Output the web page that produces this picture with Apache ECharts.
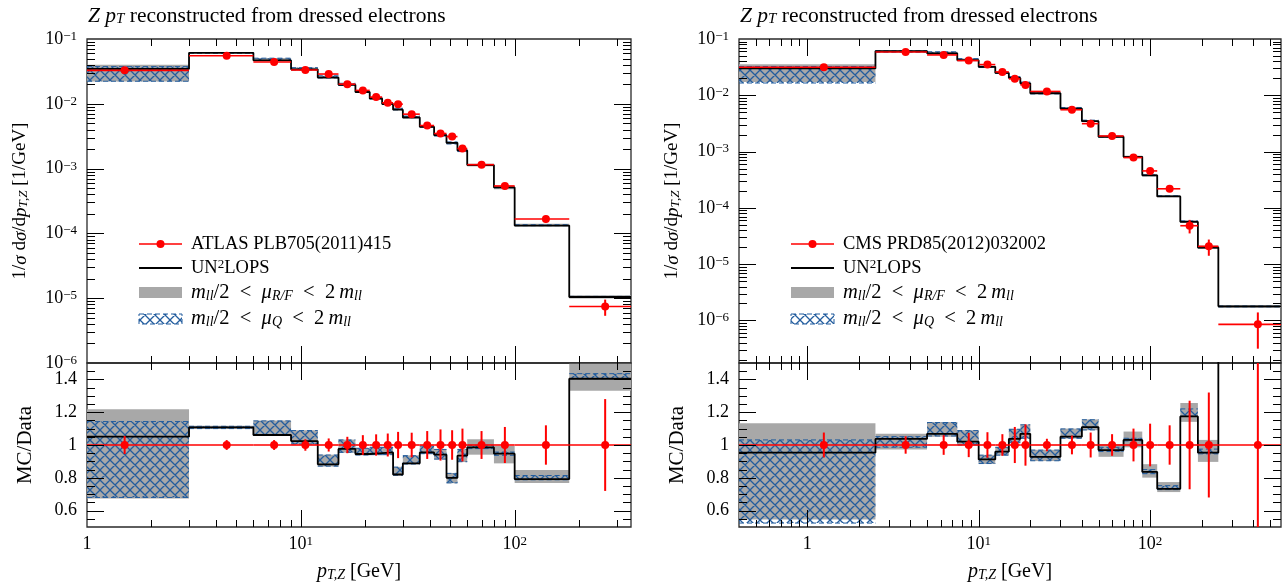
<!DOCTYPE html>
<html>
<head>
<meta charset="utf-8">
<title>Z pT reconstructed from dressed electrons</title>
<script src="https://cdn.jsdelivr.net/npm/echarts@6.0.0/dist/echarts.min.js"></script>
<style>
  html, body { margin: 0; padding: 0; background: #fff; }
  #wrap { position: relative; width: 1288px; height: 585px; }
  #chart, #ticks { position: absolute; left: 0; top: 0; width: 1288px; height: 585px; }
  #ticks { pointer-events: none; }
</style>
</head>
<body>
<div id="wrap">
  <div id="chart"></div>
  <div id="ticks"></div>
</div>
<script>
// ---- left panel: ATLAS PLB705(2011)415 ----
const atlasEdges = [0, 3, 6, 9, 12, 15, 18, 21, 24, 27, 30, 36, 42, 48, 54, 60, 80, 100, 180, 350];
const atlasData = [0.0328, 0.0552, 0.0441, 0.0332, 0.0288, 0.0201, 0.0161, 0.0127, 0.01036, 0.00988,
                   0.00692, 0.00462, 0.00348, 0.00312, 0.00204, 0.00115, 0.00054, 0.000167, 7.43e-6];
const atlasErr = [0.055, 0.03, 0.03, 0.035, 0.04, 0.05, 0.06, 0.065, 0.07, 0.08,
                  0.075, 0.085, 0.095, 0.09, 0.1, 0.085, 0.11, 0.12, 0.28];
// UN2LOPS as MC/Data, plus the two scale-variation bands (also MC/Data)
const atlasMc = [1.051, 1.108, 1.061, 1.024, 0.882, 0.976, 0.945, 0.951, 0.955, 0.820,
                 0.888, 0.955, 0.941, 0.800, 0.935, 0.986, 0.947, 0.792, 1.404];
const atlasRfLo = [0.674, 1.098, 1.055, 1.004, 0.869, 0.953, 0.937, 0.939, 0.939, 0.814,
                   0.882, 0.945, 0.912, 0.767, 0.896, 0.941, 0.888, 0.769, 1.331];
const atlasRfHi = [1.218, 1.118, 1.150, 1.090, 0.941, 1.033, 0.982, 0.988, 0.988, 0.867,
                   0.937, 0.996, 0.975, 0.829, 0.975, 1.035, 0.994, 0.847, 1.496];
const atlasQLo = [0.680, 1.100, 1.058, 1.006, 0.871, 0.955, 0.939, 0.941, 0.941, 0.816,
                  0.884, 0.947, 0.914, 0.769, 0.898, 0.978, 0.937, 0.788, 1.404];
const atlasQHi = [1.143, 1.114, 1.147, 1.088, 0.939, 1.031, 0.980, 0.986, 0.986, 0.865,
                  0.935, 0.994, 0.973, 0.827, 0.973, 0.998, 0.957, 0.814, 1.435];

// ---- right panel: CMS PRD85(2012)032002 ----
const cmsEdges = [0, 2.5, 5, 7.5, 10, 12.5, 15, 17.5, 20, 30, 40, 50, 70, 90, 110, 150, 190, 250, 600];
const cmsData = [0.0315, 0.0589, 0.0521, 0.0413, 0.0351, 0.0260, 0.0196, 0.0153, 0.0117, 0.00553,
                 0.00313, 0.00189, 0.000781, 0.000453, 0.000218, 4.81e-5, 2.07e-5, 8.5e-7];
const cmsErr = [0.076, 0.053, 0.06, 0.074, 0.078, 0.066, 0.11, 0.126, 0.038, 0.057,
                0.076, 0.066, 0.1, 0.13, 0.12, 0.27, 0.32, 0.63];
const cmsMc = [0.953, 1.037, 1.068, 1.020, 0.912, 0.959, 1.037, 1.068, 0.928, 1.051,
               1.109, 0.969, 1.031, 0.836, 0.733, 1.174, 0.953, 2.09];
const cmsRfLo = [0.545, 0.973, 1.050, 0.998, 0.885, 0.936, 1.012, 1.039, 0.902, 1.039,
                 1.090, 0.928, 0.986, 0.801, 0.713, 1.141, 0.897, 1.95];
const cmsRfHi = [1.133, 1.068, 1.140, 1.090, 0.940, 0.988, 1.098, 1.125, 0.971, 1.100,
                 1.156, 1.006, 1.082, 0.883, 0.774, 1.256, 1.031, 2.20];
const cmsQLo = [0.524, 0.986, 1.055, 1.000, 0.887, 0.938, 1.014, 1.041, 0.904, 1.041,
                1.092, 0.960, 1.025, 0.825, 0.728, 1.176, 0.946, 2.05];
const cmsQHi = [1.031, 1.051, 1.137, 1.088, 0.938, 0.986, 1.096, 1.123, 0.969, 1.098,
                1.154, 0.986, 1.041, 0.850, 0.752, 1.220, 0.975, 2.12];

// tick labels
const xLabelValues = [1, 10, 100];
const mainYLabelValues = [1e-6, 1e-5, 1e-4, 1e-3, 1e-2, 1e-1];
const ratioLabelValues = [0.6, 0.8, 1, 1.2, 1.4];

const FONT = '"Liberation Serif", "DejaVu Serif", serif';
const RED = '#ff0000', BLUE = '#235d9e', GREY = '#a8a8a8', INK = '#000';
const RATIO_MIN = 0.5, RATIO_MAX = 1.5;

const panels = [
  { edges: atlasEdges, data: atlasData, err: atlasErr, mc: atlasMc,
    rfLo: atlasRfLo, rfHi: atlasRfHi, qLo: atlasQLo, qHi: atlasQHi,
    xMin: 1, xMax: 350, yMin: 1e-6, yMax: 0.1, left: 87, width: 544,
    label: 'ATLAS PLB705(2011)415' },
  { edges: cmsEdges, data: cmsData, err: cmsErr, mc: cmsMc,
    rfLo: cmsRfLo, rfHi: cmsRfHi, qLo: cmsQLo, qHi: cmsQHi,
    xMin: 0.4, xMax: 580, yMin: 1.75e-7, yMax: 0.1, left: 739, width: 542,
    label: 'CMS PRD85(2012)032002' }
];
const rowsLayout = [[39, 324], [363, 164]];   // main plot, ratio plot (top, height)

function richSet(size) {
  const s = Math.round(size * 0.7), lh = Math.round(size * 0.5);
  return {
    n: { fontFamily: FONT, fontSize: size, color: INK },
    i: { fontFamily: FONT, fontSize: size, fontStyle: 'italic', color: INK },
    sub: { fontFamily: FONT, fontSize: s, fontStyle: 'italic', color: INK, verticalAlign: 'bottom', lineHeight: lh },
    sup: { fontFamily: FONT, fontSize: s, color: INK, verticalAlign: 'top', lineHeight: lh }
  };
}

// cross hatch tile for the mu_Q band
const hatch = (function () {
  const s = 10, c = document.createElement('canvas');
  c.width = s; c.height = s;
  const g = c.getContext('2d');
  g.strokeStyle = BLUE; g.lineWidth = 1.3;
  g.beginPath();
  for (let d = -s; d <= s; d += s) {
    g.moveTo(d, 0); g.lineTo(d + s, s);
    g.moveTo(d + s, 0); g.lineTo(d, s);
  }
  g.stroke();
  return c;
})();

function near(v, list) {
  return list.some(w => Math.abs(Math.log10(v) - Math.log10(w)) < 1e-6);
}
function powLabel(v) {
  const k = Math.round(Math.log10(v));
  if (k === 0) return '{n|1}';
  return '{n|10}{sup|' + (k < 0 ? '\u2212' + (-k) : k) + '}';
}

// tick values: [value, isMajor]
function logTicks(min, max) {
  const out = [];
  for (let k = Math.floor(Math.log10(min)); k <= Math.ceil(Math.log10(max)); k++) {
    for (let m = 1; m <= 9; m++) {
      const v = m * Math.pow(10, k);
      if (v > min * 1.0001 && v < max * 0.9999) out.push([v, m === 1]);
    }
  }
  return out;
}
function ratioTicks() {
  const out = [];
  for (let j = 11; j <= 29; j++) out.push([j * 0.05, j % 4 === 0]);
  return out;
}

function bandSeries(g, rows, hatched) {
  return {
    type: 'custom', xAxisIndex: g, yAxisIndex: g, silent: true, clip: true, z: hatched ? 3 : 2,
    data: rows, encode: { x: [0, 1], y: [2, 3] },
    renderItem: (params, api) => {
      const a = api.coord([api.value(0), api.value(3)]);
      const b = api.coord([api.value(1), api.value(2)]);
      const rect = { type: 'rect', shape: { x: a[0], y: a[1], width: b[0] - a[0], height: b[1] - a[1] },
        style: hatched ? { fill: { image: hatch, repeat: 'repeat' } } : { fill: GREY } };
      if (!hatched) return rect;
      const edge = y => ({ type: 'line', shape: { x1: a[0], y1: y, x2: b[0], y2: y },
        style: { stroke: BLUE, lineWidth: 1, lineDash: [5, 3] } });
      return { type: 'group', children: [rect, edge(a[1]), edge(b[1])] };
    }
  };
}

function pointSeries(g, rows) {
  return {
    type: 'custom', xAxisIndex: g, yAxisIndex: g, silent: true, clip: true, z: 6,
    data: rows, encode: { x: [0, 1, 2], y: [3, 4, 5] },
    renderItem: (params, api) => {
      const y = api.value(3), xm = api.value(2);
      const a = api.coord([api.value(0), y]), b = api.coord([api.value(1), y]);
      const c = api.coord([xm, y]);
      const lo = api.coord([xm, api.value(4)]), hi = api.coord([xm, api.value(5)]);
      return { type: 'group', children: [
        { type: 'line', shape: { x1: a[0], y1: a[1], x2: b[0], y2: b[1] }, style: { stroke: RED, lineWidth: 1.6 } },
        { type: 'line', shape: { x1: c[0], y1: lo[1], x2: c[0], y2: hi[1] }, style: { stroke: RED, lineWidth: 2 } },
        { type: 'circle', shape: { cx: c[0], cy: c[1], r: 4 }, style: { fill: RED } }
      ] };
    }
  };
}

let series = [];
panels.forEach((P, p) => {
  const gm = 2 * p, gr = 2 * p + 1;
  const n = P.data.length;
  const lo = [], hi = [], mid = [];
  for (let i = 0; i < n; i++) {
    lo.push(Math.max(P.edges[i], P.xMin));
    hi.push(Math.min(P.edges[i + 1], P.xMax));
    mid.push((P.edges[i] + P.edges[i + 1]) / 2);
  }
  [[gm, P.data], [gr, null]].forEach(([g, norm]) => {
    const k = i => (norm ? norm[i] : 1);
    series.push(bandSeries(g, lo.map((x, i) => [x, hi[i], P.rfLo[i] * k(i), P.rfHi[i] * k(i)]), false));
    series.push(bandSeries(g, lo.map((x, i) => [x, hi[i], P.qLo[i] * k(i), P.qHi[i] * k(i)]), true));
    const step = lo.map((x, i) => [x, P.mc[i] * k(i)]);
    step.push([hi[n - 1], P.mc[n - 1] * k(n - 1)]);
    series.push({ type: 'line', xAxisIndex: g, yAxisIndex: g, data: step, step: 'end',
      symbol: 'none', showSymbol: false, clip: true, silent: true, z: 4,
      lineStyle: { color: '#000', width: 1.8 } });
    series.push(pointSeries(g, lo.map((x, i) => [x, hi[i], mid[i], k(i),
      k(i) * (1 - P.err[i]), k(i) * (1 + P.err[i])])));
  });
});

// grids and axes; `bare` gives the same scales with nothing drawn (for the tick overlay)
function buildAxes(bare) {
  const grids = [], xAxes = [], yAxes = [];
  const off = { axisLine: { show: false }, axisTick: { show: false }, splitLine: { show: false } };
  panels.forEach((P, p) => {
    rowsLayout.forEach(([top, height], r) => {
      const g = 2 * p + r, isRatio = r === 1;
      grids.push({ left: P.left, top: top, width: P.width, height: height, show: !bare,
        borderColor: '#2a2a2a', borderWidth: 1.3, backgroundColor: 'rgba(0,0,0,0)',
        containLabel: false, outerBoundsMode: 'none' });
      xAxes.push(Object.assign({ type: 'log', logBase: 10, gridIndex: g, min: P.xMin, max: P.xMax }, off,
        bare ? { axisLabel: { show: false } } : {
          axisLabel: { show: isRatio, margin: 8, fontFamily: FONT, fontSize: 18, color: INK,
            rich: richSet(18), formatter: v => (near(v, xLabelValues) ? powLabel(v) : '') },
          name: isRatio ? '{i|p}{sub|T,Z}{n| [GeV]}' : '', nameLocation: 'middle', nameGap: 35,
          nameTextStyle: { fontFamily: FONT, fontSize: 20, color: INK, rich: richSet(20) } }));
      if (isRatio) {
        yAxes.push(Object.assign({ type: 'value', gridIndex: g, min: RATIO_MIN, max: RATIO_MAX, interval: 0.1 }, off,
          bare ? { axisLabel: { show: false } } : {
            axisLabel: { margin: 10, fontFamily: FONT, fontSize: 18, color: INK,
              formatter: v => { const w = ratioLabelValues.find(t => Math.abs(t - v) < 1e-6); return w === undefined ? '' : String(w); } },
            name: 'MC/Data', nameLocation: 'middle', nameRotate: 90, nameGap: 51,
            nameTextStyle: { fontFamily: FONT, fontSize: 21, color: INK } }));
      } else {
        yAxes.push(Object.assign({ type: 'log', logBase: 10, gridIndex: g, min: P.yMin, max: P.yMax }, off,
          bare ? { axisLabel: { show: false } } : {
            axisLabel: { margin: 10, fontFamily: FONT, fontSize: 18, color: INK, rich: richSet(18),
              formatter: v => (near(v, mainYLabelValues) ? powLabel(v) : '') },
            name: '{n|1/}{i|σ}{n| d}{i|σ}{n|/d}{i|p}{sub|T,Z}{n| [1/GeV]}', nameLocation: 'middle',
            nameRotate: 90, nameGap: 57,
            nameTextStyle: { fontFamily: FONT, fontSize: 19, color: INK, rich: richSet(19) } }));
      }
    });
  });
  return { grids, xAxes, yAxes };
}

function legendItems(P) {
  const x0 = P.left + 52, x1 = P.left + 95, tx = P.left + 104;
  const rows = [244, 268, 293, 319];
  const sp = '\u2002<\u2002';
  const txt = (y, text, size) => ({ type: 'text', x: tx, y: y, z: 10, silent: true,
    style: { text: text, rich: richSet(size), fontFamily: FONT, fontSize: size, fill: INK, verticalAlign: 'middle' } });
  return [
    { type: 'line', z: 10, shape: { x1: x0, y1: rows[0], x2: x1, y2: rows[0] }, style: { stroke: RED, lineWidth: 1.6 } },
    { type: 'circle', z: 10, shape: { cx: (x0 + x1) / 2, cy: rows[0], r: 4 }, style: { fill: RED } },
    txt(rows[0], P.label, 18.5),
    { type: 'line', z: 10, shape: { x1: x0, y1: rows[1], x2: x1, y2: rows[1] }, style: { stroke: '#000', lineWidth: 1.8 } },
    txt(rows[1], '{n|UN}{sup|2}{n|LOPS}', 18.5),
    { type: 'rect', z: 10, shape: { x: x0, y: rows[2] - 6, width: x1 - x0, height: 11 }, style: { fill: GREY } },
    txt(rows[2], '{i|m}{sub|ll}{n|/2' + sp + '}{i|μ}{sub|R/F}{n|' + sp + '2\u2009}{i|m}{sub|ll}', 20.5),
    { type: 'rect', z: 10, shape: { x: x0, y: rows[3] - 5, width: x1 - x0, height: 10 },
      style: { fill: { image: hatch, repeat: 'repeat' }, stroke: BLUE, lineWidth: 1, lineDash: [5, 3] } },
    txt(rows[3], '{i|m}{sub|ll}{n|/2' + sp + '}{i|μ}{sub|Q}{n|' + sp + '2\u2009}{i|m}{sub|ll}', 20.5)
  ];
}

// ---- main chart ----
const chart = echarts.init(document.getElementById('chart'));
const mainAxes = buildAxes(false);
chart.setOption({
  animation: false,
  title: panels.map(P => ({
    text: '{i|Z} {i|p}{sub|T}{n| reconstructed from dressed electrons}',
    left: P.left + 1, top: 5, padding: 0,
    textStyle: { fontFamily: FONT, fontSize: 21.5, fontWeight: 'normal', color: INK, rich: richSet(21.5) }
  })),
  grid: mainAxes.grids,
  xAxis: mainAxes.xAxes,
  yAxis: mainAxes.yAxes,
  series: series,
  graphic: { elements: legendItems(panels[0]).concat(legendItems(panels[1])) }
});

// ---- tick overlay: same scales, inward ticks on all four frame edges ----
const tickChart = echarts.init(document.getElementById('ticks'));
const tickAxes = buildAxes(true);
tickChart.setOption({
  animation: false,
  grid: tickAxes.grids,
  xAxis: tickAxes.xAxes,
  yAxis: tickAxes.yAxes,
  series: tickAxes.grids.map((gr, g) => ({ type: 'line', xAxisIndex: g, yAxisIndex: g, data: [],
    symbol: 'none', silent: true }))
});

function tickElements() {
  const els = [];
  const seg = (x1, y1, x2, y2) => ({ type: 'line', silent: true, z: 20,
    shape: { x1: x1, y1: y1, x2: x2, y2: y2 }, style: { stroke: INK, lineWidth: 1 } });
  panels.forEach((P, p) => {
    rowsLayout.forEach(([top, height], r) => {
      const g = 2 * p + r, bottom = top + height, left = P.left, right = P.left + P.width;
      logTicks(P.xMin, P.xMax).forEach(([v, major]) => {
        const x = Math.round(tickChart.convertToPixel({ xAxisIndex: g }, v)) + 0.5;
        const len = major ? 17 : 7;
        if (isFinite(x)) els.push(seg(x, top, x, top + len), seg(x, bottom, x, bottom - len));
      });
      const yt = r === 0 ? logTicks(P.yMin, P.yMax) : ratioTicks();
      yt.forEach(([v, major]) => {
        const y = Math.round(tickChart.convertToPixel({ yAxisIndex: g }, v)) + 0.5;
        const len = major ? 17 : 8;
        if (isFinite(y)) els.push(seg(left, y, left + len, y), seg(right, y, right - len, y));
      });
    });
  });
  return els;
}
tickChart.setOption({ graphic: { elements: tickElements() } });
</script>
</body>
</html>
